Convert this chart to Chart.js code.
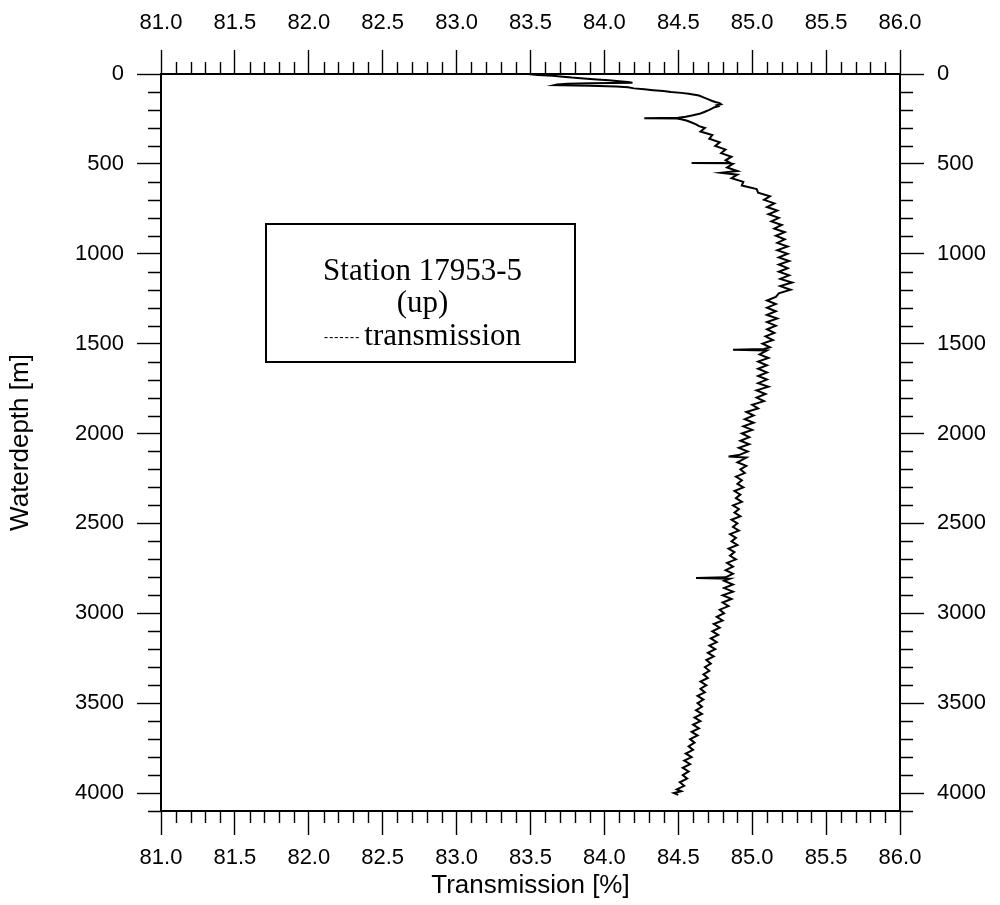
<!DOCTYPE html>
<html>
<head>
<meta charset="utf-8">
<title>Station 17953-5 (up) – transmission profile</title>
<script src="https://cdn.jsdelivr.net/npm/chart.js@4/dist/chart.umd.min.js"></script>
<style>
  html, body { margin: 0; padding: 0; background: #fff; }
  #wrap { width: 1000px; height: 905px; }
</style>
</head>
<body>
<div id="wrap"><canvas id="chart" width="1000" height="905"></canvas></div>
<script>
// Water depth of each sample [m]
const depthM = [
  0, 5, 10, 15, 20, 25, 30, 35, 40, 45,
  48, 51, 54, 58, 62, 66, 70, 74, 80, 85,
  90, 95, 100, 105, 110, 115, 120, 130, 140, 150,
  156, 162, 168, 174, 180, 186, 192, 200, 210, 220,
  230, 238, 243, 246, 248, 252, 260, 270, 280, 290,
  300, 320, 340, 360, 380, 400, 420, 440, 460, 480,
  494, 495, 496, 500, 520, 540, 550, 560, 580, 600,
  620, 640, 660, 680, 700, 720, 740, 760, 780, 800,
  820, 840, 860, 880, 900, 920, 940, 960, 980, 1000,
  1020, 1040, 1060, 1080, 1100, 1120, 1140, 1160, 1180, 1200,
  1220, 1240, 1260, 1280, 1300, 1320, 1340, 1360, 1380, 1400,
  1420, 1440, 1460, 1480, 1500, 1520, 1530, 1534, 1538, 1560,
  1580, 1600, 1620, 1640, 1660, 1680, 1700, 1720, 1740, 1760,
  1780, 1800, 1820, 1840, 1860, 1880, 1900, 1920, 1940, 1960,
  1980, 2000, 2020, 2040, 2060, 2080, 2100, 2120, 2128, 2134,
  2160, 2180, 2200, 2220, 2240, 2260, 2280, 2300, 2320, 2340,
  2360, 2380, 2400, 2420, 2440, 2460, 2480, 2500, 2520, 2540,
  2560, 2580, 2600, 2620, 2640, 2660, 2680, 2700, 2720, 2740,
  2760, 2780, 2800, 2804, 2808, 2820, 2840, 2860, 2880, 2900,
  2920, 2940, 2960, 2980, 3000, 3020, 3040, 3060, 3080, 3100,
  3120, 3140, 3160, 3180, 3200, 3220, 3240, 3260, 3280, 3300,
  3320, 3340, 3360, 3380, 3400, 3420, 3440, 3460, 3480, 3500,
  3520, 3540, 3560, 3580, 3600, 3620, 3640, 3660, 3680, 3700,
  3720, 3740, 3760, 3780, 3800, 3820, 3840, 3860, 3880, 3900,
  3920, 3940, 3960, 3980, 3990, 4000, 4010
];

// Beam transmission at each depth [%]
const transmissionPct = [
  83.48, 83.55, 83.65, 83.72, 83.78, 83.86, 83.95, 84.03, 84.10, 84.16,
  84.19, 83.90, 83.75, 83.68, 83.66, 83.90, 84.08, 84.16, 84.20, 84.27,
  84.33, 84.40, 84.45, 84.52, 84.57, 84.61, 84.64, 84.67, 84.70, 84.73,
  84.75, 84.78, 84.79, 84.76, 84.77, 84.74, 84.73, 84.71, 84.68, 84.65,
  84.60, 84.55, 84.50, 84.27, 84.49, 84.52, 84.56, 84.59, 84.62, 84.64,
  84.68, 84.65, 84.73, 84.71, 84.78, 84.75, 84.82, 84.79, 84.86, 84.82,
  84.85, 84.59, 84.84, 84.87, 84.83, 84.90, 84.79, 84.90, 84.86, 84.94,
  84.93, 85.03, 85.04, 85.12, 85.08, 85.15, 85.10, 85.17, 85.11, 85.18,
  85.13, 85.20, 85.15, 85.22, 85.16, 85.22, 85.17, 85.24, 85.17, 85.24,
  85.18, 85.25, 85.18, 85.24, 85.18, 85.25, 85.19, 85.27, 85.19, 85.26,
  85.18, 85.16, 85.10, 85.16, 85.10, 85.16, 85.10, 85.17, 85.10, 85.16,
  85.10, 85.15, 85.09, 85.14, 85.07, 85.12, 85.08, 84.87, 85.10, 85.05,
  85.11, 85.04, 85.10, 85.04, 85.10, 85.04, 85.10, 85.04, 85.11, 85.03,
  85.09, 85.03, 85.08, 85.00, 85.04, 84.96, 85.01, 84.95, 85.01, 84.94,
  85.00, 84.93, 84.98, 84.92, 84.98, 84.91, 84.97, 84.91, 84.84, 84.96,
  84.90, 84.96, 84.92, 84.95, 84.89, 84.93, 84.90, 84.94, 84.88, 84.92,
  84.89, 84.93, 84.87, 84.91, 84.88, 84.92, 84.86, 84.90, 84.87, 84.91,
  84.85, 84.89, 84.86, 84.90, 84.84, 84.88, 84.85, 84.89, 84.83, 84.87,
  84.82, 84.87, 84.82, 84.62, 84.85, 84.81, 84.87, 84.81, 84.87, 84.80,
  84.86, 84.80, 84.84, 84.78, 84.81, 84.76, 84.80, 84.74, 84.78, 84.73,
  84.77, 84.72, 84.76, 84.71, 84.75, 84.70, 84.74, 84.69, 84.72, 84.68,
  84.71, 84.67, 84.70, 84.65, 84.69, 84.65, 84.68, 84.63, 84.67, 84.63,
  84.66, 84.62, 84.66, 84.61, 84.65, 84.60, 84.64, 84.59, 84.63, 84.58,
  84.61, 84.57, 84.60, 84.55, 84.59, 84.54, 84.58, 84.53, 84.57, 84.53,
  84.56, 84.51, 84.54, 84.49, 84.52, 84.47, 84.50
];

// Labelled (major) tick values
const xTickValues = [81.0, 81.5, 82.0, 82.5, 83.0, 83.5, 84.0, 84.5, 85.0, 85.5, 86.0];
const yTickValues = [0, 500, 1000, 1500, 2000, 2500, 3000, 3500, 4000];

// Legend box lines
const stationLabel = 'Station 17953-5';
const castLabel = '(up)';
const seriesKey = '-------';
const seriesLabel = 'transmission';

// Axis titles
const xTitle = 'Transmission [%]';
const yTitle = 'Waterdepth [m]';

const SANS = '"Liberation Sans", Arial, Helvetica, sans-serif';
const SERIF = '"Liberation Serif", "Times New Roman", serif';
const INK = '#000';

const tickFont = { family: SANS, size: 22 };
const frameBorder = { display: true, color: INK, width: 2 };

function majorTickGrid() {
  return {
    display: true,
    drawOnChartArea: false,
    drawTicks: true,
    tickLength: 24,
    tickWidth: 1.4,
    tickColor: INK,
    color: INK
  };
}

function xAxis(position, pad, boxHeight, withTitle) {
  return {
    type: 'linear',
    position: position,
    min: 81,
    max: 86,
    grid: majorTickGrid(),
    border: frameBorder,
    afterBuildTicks: s => { s.ticks = xTickValues.map(v => ({ value: v })); },
    ticks: {
      autoSkip: false,
      maxRotation: 0,
      padding: pad,
      color: INK,
      font: tickFont,
      callback: v => Number(v).toFixed(1)
    },
    title: withTitle ? {
      display: true,
      text: xTitle,
      color: INK,
      font: { family: SANS, size: 26, lineHeight: 1 },
      padding: { top: 0, bottom: 6 }
    } : { display: false },
    afterFit: s => { s.height = boxHeight; }
  };
}

function yAxis(position, boxWidth, withTitle) {
  return {
    type: 'linear',
    position: position,
    min: 0,
    max: 4100,
    reverse: true,
    grid: majorTickGrid(),
    border: frameBorder,
    afterBuildTicks: s => { s.ticks = yTickValues.map(v => ({ value: v })); },
    ticks: {
      autoSkip: false,
      padding: 13,
      color: INK,
      font: tickFont,
      callback: v => String(v)
    },
    title: withTitle ? {
      display: true,
      text: yTitle,
      color: INK,
      font: { family: SANS, size: 26, lineHeight: 1 },
      padding: { top: 8, bottom: 0 }
    } : { display: false },
    afterFit: s => { s.width = boxWidth; }
  };
}

// Short minor ticks (every 0.1 % and every 100 m) on all four sides of the frame
const minorTicks = {
  id: 'minorTicks',
  afterDraw(chart) {
    const { ctx, chartArea: a, scales } = chart;
    const len = 12;
    ctx.save();
    ctx.strokeStyle = INK;
    ctx.lineWidth = 1.4;
    ctx.beginPath();
    for (let i = 810; i <= 860; i++) {
      if (i % 5 === 0) continue;
      const px = Math.round(scales.x.getPixelForValue(i / 10)) + 0.5;
      ctx.moveTo(px, a.top); ctx.lineTo(px, a.top - len);
      ctx.moveTo(px, a.bottom); ctx.lineTo(px, a.bottom + len);
    }
    for (let d = 0; d <= 4100; d += 100) {
      if (d % 500 === 0) continue;
      const py = Math.round(scales.y.getPixelForValue(d)) + 0.5;
      ctx.moveTo(a.left, py); ctx.lineTo(a.left - len - 1, py);
      ctx.moveTo(a.right, py); ctx.lineTo(a.right + len + 1, py);
    }
    ctx.stroke();
    ctx.restore();
  }
};

// Framed annotation box inside the plot
const stationBox = {
  id: 'stationBox',
  afterDraw(chart) {
    const { ctx, chartArea: a } = chart;
    const left = a.left + 105, top = a.top + 150, w = 309, h = 138;
    const cx = left + w / 2 + 2;
    ctx.save();
    ctx.strokeStyle = INK;
    ctx.lineWidth = 2;
    ctx.strokeRect(left, top, w, h);
    ctx.fillStyle = INK;
    ctx.textBaseline = 'alphabetic';
    ctx.textAlign = 'center';
    ctx.font = `31px ${SERIF}`;
    ctx.fillText(stationLabel, cx, top + 56);
    ctx.fillText(castLabel, cx, top + 88);
    // key line: small spaced dashes followed by the series name
    ctx.textAlign = 'left';
    ctx.font = `bold 12px ${SERIF}`;
    ctx.letterSpacing = '1.2px';
    const wk = ctx.measureText(seriesKey).width;
    ctx.letterSpacing = '0px';
    ctx.font = `31px ${SERIF}`;
    const wl = ctx.measureText(seriesLabel).width;
    const gap = 4;
    const x0 = cx - (wk + gap + wl) / 2;
    ctx.font = `bold 12px ${SERIF}`;
    ctx.letterSpacing = '1.2px';
    ctx.fillText(seriesKey, x0, top + 117);
    ctx.letterSpacing = '0px';
    ctx.font = `31px ${SERIF}`;
    ctx.fillText(seriesLabel, x0 + wk + gap, top + 121);
    ctx.restore();
  }
};

const points = depthM.map((d, i) => ({ x: transmissionPct[i], y: d }));

new Chart(document.getElementById('chart'), {
  type: 'scatter',
  data: {
    datasets: [{
      label: seriesLabel,
      data: points,
      showLine: true,
      borderColor: INK,
      backgroundColor: INK,
      borderWidth: 2,
      pointRadius: 0,
      tension: 0,
      xAxisID: 'x',
      yAxisID: 'y'
    }]
  },
  options: {
    responsive: false,
    animation: false,
    devicePixelRatio: 1,
    layout: { padding: 0 },
    plugins: {
      legend: { display: false },
      tooltip: { enabled: false },
      title: { display: false }
    },
    scales: {
      x: xAxis('bottom', 10, 94, true),
      x2: xAxis('top', 14, 74, false),
      y: yAxis('left', 161, true),
      y2: yAxis('right', 100, false)
    }
  },
  plugins: [minorTicks, stationBox]
});
</script>
</body>
</html>
